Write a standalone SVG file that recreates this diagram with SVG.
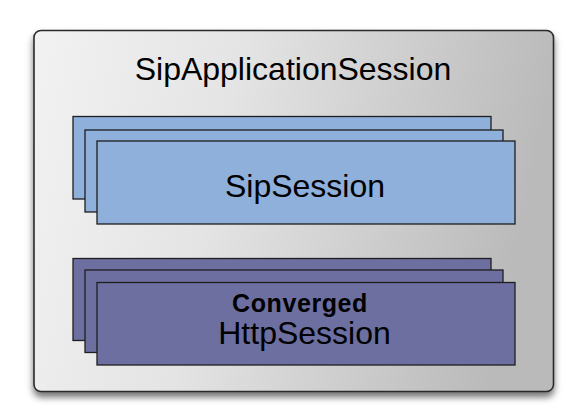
<svg xmlns="http://www.w3.org/2000/svg" width="567" height="414" viewBox="0 0 567 414">
<defs>
<linearGradient id="bg" x1="0" y1="0" x2="1" y2="0.15">
<stop offset="0" stop-color="#f2f2f2"/>
<stop offset="0.4" stop-color="#e4e4e4"/>
<stop offset="1" stop-color="#bababa"/>
</linearGradient>
<filter id="sh" x="-10%" y="-10%" width="120%" height="125%">
<feDropShadow dx="0" dy="5" stdDeviation="3.5" flood-color="#000" flood-opacity="0.55"/>
</filter>
</defs>
<style>
.sip{fill:#8eb0db;stroke:#1e1e1e;stroke-width:1.3}
.http{fill:#6d6fa0;stroke:#1e1e1e;stroke-width:1.3}
.t{font-family:"Liberation Sans",Arial,sans-serif;fill:#000;text-anchor:middle}
</style>
<rect width="567" height="414" fill="#ffffff"/>
<g id="SipApplicationSession">
<rect x="34" y="30.5" width="519.5" height="361" rx="7" fill="url(#bg)" stroke="#2a2a2a" stroke-width="1.6" filter="url(#sh)"/>
<text class="t" x="293" y="80" font-size="32">SipApplicationSession</text>
</g>
<g id="SipSession">
<rect class="sip" x="73" y="116.5" width="418" height="82.5"/>
<rect class="sip" x="85" y="130" width="418" height="82"/>
<rect class="sip" x="97" y="141" width="418" height="83"/>
<text class="t" x="305" y="196.5" font-size="32">SipSession</text>
</g>
<g id="ConvergedHttpSession">
<rect class="http" x="73" y="258.5" width="418" height="82"/>
<rect class="http" x="85" y="270" width="418" height="82.5"/>
<rect class="http" x="97" y="282.5" width="418" height="82.5"/>
<text class="t" x="300" y="311.5" font-size="25" font-weight="bold" letter-spacing="0.6">Converged</text>
<text class="t" x="304.5" y="344" font-size="32">HttpSession</text>
</g>
<g id="connectors"/>
</svg>
